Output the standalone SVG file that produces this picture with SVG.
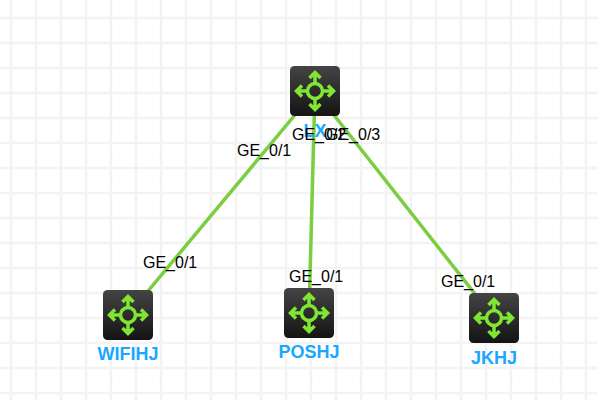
<svg xmlns="http://www.w3.org/2000/svg" width="598" height="400" viewBox="0 0 598 400">
<style>
.g{stroke:#f3f3f3;stroke-width:2.5;fill:none}
.e{stroke:#7ace3f;stroke-width:3.500;fill:none}
.l{font:16px "Liberation Sans",Arial,sans-serif;fill:#000}
.n{font:bold 18px "Liberation Sans",Arial,sans-serif;fill:#1aa7ff;text-anchor:middle}
.a{fill:none;stroke:#7fe732;stroke-width:3.500}
</style>
<defs>
<linearGradient id="bg" x1="0" y1="0" x2="0" y2="1"><stop offset="0" stop-color="#444"/><stop offset="1" stop-color="#141414"/></linearGradient>
<g id="sw">
<rect width="50" height="50" rx="4.500" fill="url(#bg)"/>
<circle cx="25" cy="25" r="7.500" class="a"/>
<path class="a" d="M25 7V17.500M25 32.500V43M7 25H17.500M32.500 25H43M19.500 12L25 6.500L30.500 12M19.500 38L25 43.500L30.500 38M12 19.500L6.500 25L12 30.500M38 19.500L43.500 25L38 30.500"/>
</g>
</defs>
<rect width="598" height="400" fill="#fff"/>
<path class="g" d="M11 0V400M36 0V400M61 0V400M86 0V400M111 0V400M136 0V400M161 0V400M186 0V400M211 0V400M236 0V400M261 0V400M286 0V400M311 0V400M336 0V400M361 0V400M386 0V400M411 0V400M436 0V400M461 0V400M486 0V400M511 0V400M536 0V400M561 0V400M586 0V400M0 18H598M0 43H598M0 68H598M0 93H598M0 118H598M0 143H598M0 168H598M0 193H598M0 218H598M0 243H598M0 268H598M0 293H598M0 318H598M0 343H598M0 368H598M0 393H598"/>
<g id="connectors">
<line class="e" x1="315" y1="91" x2="128" y2="315"/>
<line class="e" x1="315" y1="91" x2="309" y2="313"/>
<line class="e" x1="315" y1="91" x2="494" y2="318"/>
</g>
<g id="LX"><use href="#sw" x="290" y="66"/><text class="n" x="315" y="137">LX</text></g>
<g id="WIFIHJ"><use href="#sw" x="103" y="290"/><text class="n" x="128" y="360">WIFIHJ</text></g>
<g id="POSHJ"><use href="#sw" x="284" y="288"/><text class="n" x="309" y="358">POSHJ</text></g>
<g id="JKHJ"><use href="#sw" x="469" y="293"/><text class="n" x="494" y="364">JKHJ</text></g>
<g id="labels">
<text class="l" x="237" y="156">GE_0/1</text>
<text class="l" x="292" y="140">GE_0/2</text>
<text class="l" x="326" y="140">GE_0/3</text>
<text class="l" x="143" y="268">GE_0/1</text>
<text class="l" x="289" y="282">GE_0/1</text>
<text class="l" x="441" y="287">GE_0/1</text>
</g>
</svg>
